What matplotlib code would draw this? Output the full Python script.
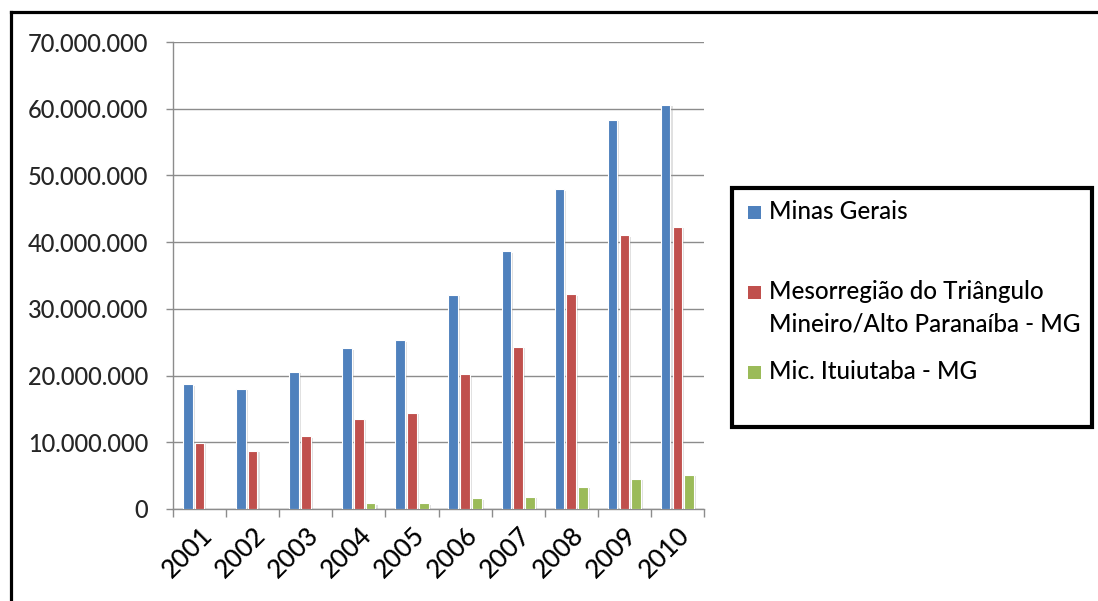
import matplotlib
matplotlib.use("Agg")
import matplotlib.pyplot as plt
import matplotlib.patheffects as pe
from matplotlib.lines import Line2D
from matplotlib.patches import Rectangle
from matplotlib.ticker import FuncFormatter, FixedLocator
import numpy as np

years = ["2001", "2002", "2003", "2004", "2005", "2006", "2007", "2008", "2009", "2010"]
minas_gerais = [18.7e6, 18.0e6, 20.6e6, 24.1e6, 25.3e6, 32.1e6, 38.6e6, 47.9e6, 58.3e6, 60.6e6]
triangulo = [9.9e6, 8.75e6, 10.9e6, 13.5e6, 14.4e6, 20.2e6, 24.3e6, 32.2e6, 41.0e6, 42.3e6]
ituiutaba = [0.0, 0.0, 0.05e6, 0.85e6, 0.85e6, 1.6e6, 1.8e6, 3.35e6, 4.5e6, 5.1e6]

series_names = ["Minas Gerais",
                "Mesorregião do Triângulo\nMineiro/Alto Paranaíba - MG",
                "Mic. Ituiutaba - MG"]
colors = ["#4F81BD", "#C0504D", "#9BBB59"]

W, H = 1098, 601
fig = plt.figure(figsize=(W / 100, H / 100), dpi=100)
fig.patch.set_facecolor("white")

ax = fig.add_axes([173 / W, (H - 509) / H, (704 - 173) / W, (509 - 42) / H])

x = np.arange(len(years))
bar_w = 0.18
step = 0.222
shadow = [pe.SimplePatchShadow(offset=(1.5, -1), shadow_rgbFace="#999999", alpha=0.3), pe.Normal()]
for i, (vals, c) in enumerate(zip([minas_gerais, triangulo, ituiutaba], colors)):
    bars = ax.bar(x + (i - 1) * step, vals, width=bar_w, color=c,
                  edgecolor="white", linewidth=0.8, zorder=3)
    for b in bars:
        b.set_path_effects(shadow)

ax.set_xlim(-0.5, len(years) - 0.5)
ax.set_ylim(0, 70e6)
ax.set_yticks(np.arange(0, 70e6 + 1, 10e6))
ax.yaxis.set_major_formatter(FuncFormatter(lambda v, p: f"{int(v):,}".replace(",", ".")))
ax.grid(axis="y", color="#8C8C8C", linewidth=1.0, zorder=0)
ax.set_axisbelow(True)

# category boundaries carry the tick marks, labels sit at category centres
ax.xaxis.set_major_locator(FixedLocator(np.arange(-0.5, len(years), 1.0)))
ax.xaxis.set_major_formatter(FuncFormatter(lambda v, p: ""))
ax.xaxis.set_minor_locator(FixedLocator(x))
ax.set_xticklabels(years, minor=True)
ax.tick_params(axis="x", which="major", length=6, width=1.0, color="#8C8C8C", direction="out")
ax.tick_params(axis="x", which="minor", length=0, pad=10)
ax.tick_params(axis="y", length=5, width=1.0, color="#8C8C8C", pad=13)

font = "Lato"
for lab in ax.get_yticklabels():
    lab.set_fontfamily(font)
    lab.set_fontsize(17)
    lab.set_fontweight("medium")
    lab.set_color("#262626")
for lab in ax.xaxis.get_minorticklabels():
    lab.set_fontfamily(font)
    lab.set_fontsize(18.5)
    lab.set_fontweight("medium")
    lab.set_rotation(45)
    lab.set_ha("right")
    lab.set_va("top")
    lab.set_rotation_mode("anchor")
    lab.set_color("#000000")

for s in ["top", "right"]:
    ax.spines[s].set_visible(False)
for s in ["left", "bottom"]:
    ax.spines[s].set_color("#8C8C8C")
    ax.spines[s].set_linewidth(1.0)

# legend box
lx0, lx1, ly0, ly1 = 732, 1092, 188, 427
fig.add_artist(Rectangle((lx0 / W, 1 - ly1 / H), (lx1 - lx0) / W, (ly1 - ly0) / H,
                         transform=fig.transFigure, facecolor="white",
                         edgecolor="black", linewidth=3))
entry_y = [212.7, 292.7, 372.7]
for name, c, yy in zip(series_names, colors, entry_y):
    fig.add_artist(Rectangle((748 / W, 1 - (yy + 6.5) / H), 13 / W, 13 / H,
                             transform=fig.transFigure, facecolor=c, edgecolor="none"))
    fig.text(769 / W, 1 - (yy - 12.5) / H, name, fontfamily=font, fontsize=17.4,
             fontweight="medium", va="top", ha="left", color="#000000", linespacing=1.5)

# outer frame
fig.add_artist(Line2D([11 / W, 11 / W], [0, 1 - 12 / H], transform=fig.transFigure,
                      color="black", linewidth=2.3))
fig.add_artist(Line2D([11 / W, 1], [1 - 12 / H, 1 - 12 / H], transform=fig.transFigure,
                      color="black", linewidth=2.3))

fig.savefig("out.png", dpi=100)
